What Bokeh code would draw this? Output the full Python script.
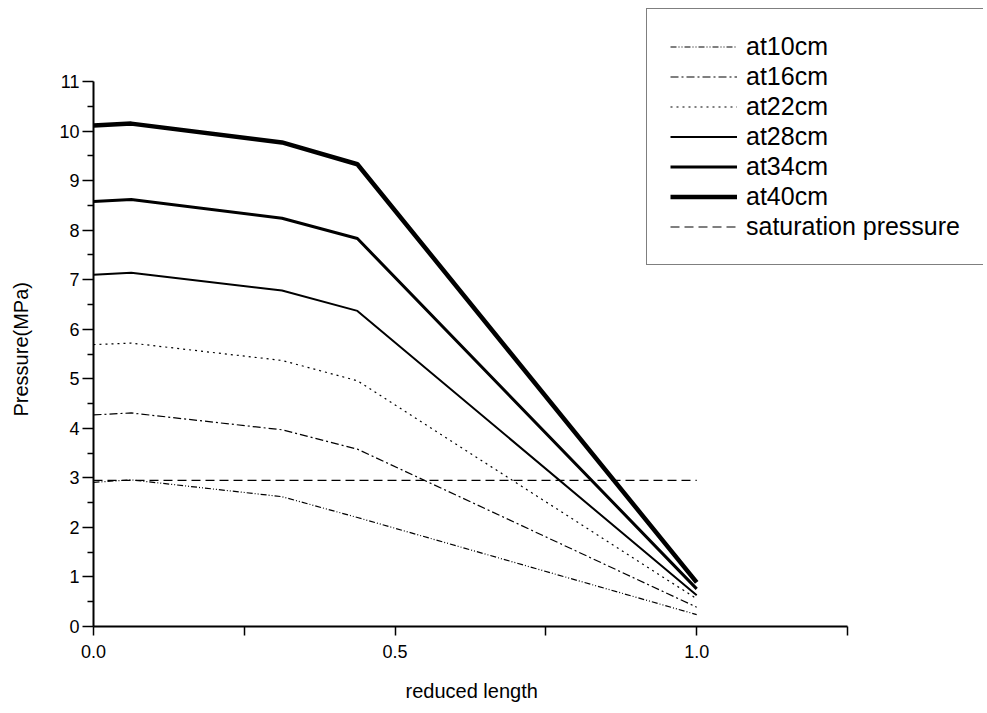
from bokeh.plotting import figure
from bokeh.models import (FixedTicker, PrintfTickFormatter, Legend, LegendItem,
                          Range1d, Title)
from bokeh.embed import file_html
from bokeh.resources import INLINE

# reduced length positions along the sample
reduced_length = [0.0, 0.0625, 0.3125, 0.4375, 1.0]

# pressure profiles (MPa) at each depth
p_at10cm = [2.91, 2.96, 2.62, 2.20, 0.24]
p_at16cm = [4.27, 4.31, 3.97, 3.58, 0.39]
p_at22cm = [5.69, 5.72, 5.37, 4.96, 0.56]
p_at28cm = [7.10, 7.14, 6.78, 6.37, 0.63]
p_at34cm = [8.58, 8.62, 8.24, 7.83, 0.76]
p_at40cm = [10.11, 10.15, 9.77, 9.33, 0.89]

saturation_x = [0.0, 1.0]
saturation_p = [2.95, 2.95]

series_labels = ["at10cm", "at16cm", "at22cm", "at28cm", "at34cm", "at40cm"]

# drawn axis extents
X_AXIS = (0.0, 1.25)
Y_AXIS = (0, 11)

FONT = "Liberation Sans"

# the frame spans the legend area too; axes are bounded to their own extents
p = figure(width=987, height=713, output_backend="svg", toolbar_location=None,
           x_range=Range1d(0, 1.25 * 890 / 754), y_range=Range1d(0, 11 * 619 / 545),
           min_border_left=93, min_border_right=4,
           min_border_top=7, min_border_bottom=87)
p.outline_line_color = None
p.xgrid.visible = False
p.ygrid.visible = False
p.background_fill_color = "white"
p.border_fill_color = "white"

styles = [
    dict(line_width=1.2, line_dash="6 2 1 2 1 2"),
    dict(line_width=1.2, line_dash="8 3 2 3"),
    dict(line_width=1.2, line_dash="2 4"),
    dict(line_width=2, line_dash="solid"),
    dict(line_width=3, line_dash="solid"),
    dict(line_width=4.5, line_dash="solid"),
]
profiles = [p_at10cm, p_at16cm, p_at22cm, p_at28cm, p_at34cm, p_at40cm]

items = []
for label, ys, st in zip(series_labels, profiles, styles):
    r = p.line(reduced_length, ys, line_color="black", **st)
    items.append(LegendItem(label=label, renderers=[r]))

rs = p.line(saturation_x, saturation_p, line_color="black", line_width=1.2,
            line_dash="9 5")
items.append(LegendItem(label="saturation pressure", renderers=[rs]))

# axes
xa = p.xaxis[0]
ya = p.yaxis[0]
xa.bounds = X_AXIS
ya.bounds = Y_AXIS
xa.ticker = FixedTicker(ticks=[0.0, 0.5, 1.0], minor_ticks=[0.25, 0.75, 1.25])
xa.formatter = PrintfTickFormatter(format="%.1f")
ya.ticker = FixedTicker(ticks=list(range(0, 12)),
                        minor_ticks=[i + 0.5 for i in range(0, 11)])
for ax in (xa, ya):
    ax.axis_line_width = 2
    ax.axis_line_color = "black"
    ax.major_tick_line_width = 1.5
    ax.minor_tick_line_width = 1.5
    ax.major_tick_line_color = "black"
    ax.minor_tick_line_color = "black"
    ax.major_tick_in = 0
    ax.minor_tick_in = 0
    ax.major_label_text_font = FONT
    ax.major_label_text_font_size = "18px"
    ax.major_label_text_color = "black"

xa.major_tick_out = 9
xa.minor_tick_out = 9
xa.major_label_standoff = 9

ya.major_tick_out = 11
ya.minor_tick_out = 6
ya.major_label_standoff = 3

# gaps between the tick labels and the axis titles
p.add_layout(Title(text=" ", text_font_size="1px", standoff=14), "below")
p.add_layout(Title(text=" ", text_font_size="1px", standoff=22), "left")

# axis titles, centred on the bounded axes rather than on the whole frame
x_title = Title(text="reduced length", align="left", offset=312, standoff=0,
                text_font=FONT, text_font_size="20px", text_font_style="normal",
                text_color="black")
y_title = Title(text="Pressure(MPa)", align="left", offset=210, standoff=0,
                text_font=FONT, text_font_size="20px", text_font_style="normal",
                text_color="black")
p.add_layout(x_title, "below")
p.add_layout(y_title, "left")

legend = Legend(items=items, location=(553, 361))
legend.label_text_font = FONT
legend.label_text_font_size = "25px"
legend.label_text_color = "black"
legend.glyph_width = 67
legend.glyph_height = 29
legend.label_height = 29
legend.label_standoff = 9
legend.spacing = 1
legend.padding = 23
legend.margin = 0
legend.border_line_color = "black"
legend.border_line_width = 1
legend.background_fill_color = "white"
legend.background_fill_alpha = 1
p.add_layout(legend, "center")

open("out.html", "w").write(file_html(p, INLINE))
